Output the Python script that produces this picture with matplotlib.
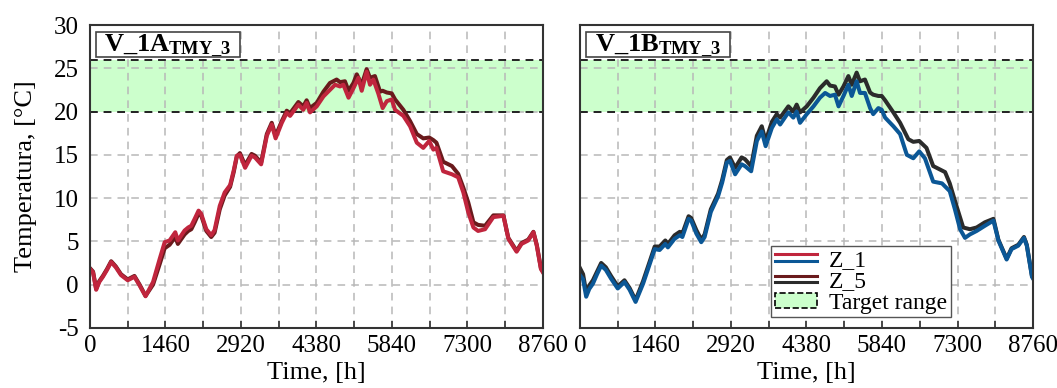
import matplotlib
matplotlib.use("Agg")
import matplotlib.pyplot as plt
from matplotlib.lines import Line2D
from matplotlib.patches import Patch, Rectangle
from matplotlib.legend_handler import HandlerBase

plt.rcParams['font.family'] = ['Liberation Serif', 'DejaVu Serif']
plt.rcParams['mathtext.fontset'] = 'custom'
plt.rcParams['mathtext.rm'] = 'Liberation Serif'
plt.rcParams['mathtext.bf'] = 'Liberation Serif:bold'
plt.rcParams['axes.unicode_minus'] = False

# hourly-mean indoor temperature, sampled at turning points
a_z1_h = [0, 60, 120, 180, 250, 330, 410, 500, 600, 730, 860, 960, 1075, 1220, 1350, 1445, 1540,
          1650, 1700, 1830, 1900, 1960, 2025, 2100, 2150, 2250, 2345, 2410, 2510, 2605, 2710, 2780,
          2840, 2900, 3000, 3125, 3190, 3310, 3420, 3515, 3590, 3710, 3805, 3870, 4030, 4125, 4190,
          4255, 4385, 4515, 4640, 4740, 4835, 4900, 5000, 5095, 5190, 5255, 5350, 5415, 5480, 5575,
          5610, 5660, 5740, 5835, 5900, 6060, 6190, 6320, 6445, 6560, 6640, 6700, 6830, 7000, 7120,
          7220, 7315, 7415, 7505, 7640, 7800, 7995, 8090, 8250, 8345, 8475, 8575, 8640, 8720, 8760]
a_z1_t = [1.8, 1.4, -0.6, 0.3, 0.9, 1.7, 2.6, 2.0, 1.1, 0.5, 0.9, -0.1, -1.35, 0.3, 3.0, 4.9, 5.1,
          6.05, 5.1, 6.25, 6.6, 6.8, 7.6, 8.55, 8.2, 6.4, 5.7, 6.3, 9.1, 10.65, 11.5, 13.2,
          14.9, 15.0, 13.5, 14.9, 14.7, 13.9, 17.2, 18.5, 16.9, 18.7, 19.85, 19.5, 20.8, 20.2, 21.0,
          19.9, 20.6, 21.75, 22.5, 23.1, 22.9, 23.1, 21.6, 22.7, 23.9, 22.4, 24.6, 23.1, 23.7, 22.1,
          21.4, 20.4, 21.2, 21.4, 20.2, 19.5, 18.3, 16.4, 15.8, 16.6, 15.6, 15.8, 13.1, 12.75, 12.4,
          10.65, 8.35, 6.6, 6.2, 6.4, 7.8, 7.95, 5.3, 3.8, 4.7, 5.1, 6.05, 4.5, 1.8, 1.4]

a_z5_h = [0, 60, 120, 180, 250, 330, 410, 500, 600, 730, 860, 960, 1075, 1220, 1350, 1445, 1540,
          1650, 1700, 1830, 1900, 1960, 2025, 2100, 2150, 2250, 2345, 2410, 2510, 2605, 2710, 2780,
          2840, 2900, 3000, 3125, 3190, 3310, 3420, 3515, 3590, 3710, 3805, 3870, 4030, 4125, 4190,
          4255, 4385, 4515, 4640, 4770, 4835, 4930, 5000, 5095, 5160, 5255, 5350, 5415, 5510, 5610,
          5660, 5740, 5835, 5900, 6060, 6190, 6320, 6445, 6560, 6640, 6700, 6830, 7000, 7120, 7220,
          7315, 7415, 7505, 7640, 7800, 7995, 8090, 8250, 8345, 8475, 8575, 8640, 8720, 8760]
a_z5_t = [1.9, 1.5, -0.5, 0.4, 1.0, 1.8, 2.7, 2.1, 1.2, 0.6, 1.0, 0.0, -1.3, 0.0, 2.4, 4.2, 4.6,
          5.5, 4.7, 5.8, 6.2, 6.4, 7.2, 8.2, 8.0, 6.2, 5.5, 6.0, 8.7, 10.3, 11.3, 13.0,
          14.8, 15.2, 13.8, 15.1, 14.9, 14.1, 17.4, 18.7, 17.2, 18.9, 20.1, 19.8, 21.1, 20.6, 21.3,
          20.4, 21.0, 22.3, 23.3, 23.7, 23.4, 23.5, 22.4, 23.3, 24.3, 23.1, 24.9, 23.9, 24.1, 22.3,
          22.4, 22.2, 22.1, 21.4, 20.2, 18.9, 17.4, 16.9, 17.0, 16.7, 16.4, 14.2, 13.7, 12.8, 11.2,
          9.5, 7.2, 6.9, 6.8, 8.0, 8.0, 5.4, 3.9, 4.8, 5.2, 6.1, 4.6, 1.9, 1.5]

b_z1_h = [0, 60, 120, 180, 250, 330, 410, 500, 600, 730, 860, 960, 1075, 1220, 1350, 1445, 1540,
          1650, 1700, 1830, 1930, 1980, 2100, 2150, 2250, 2345, 2410, 2530, 2670, 2750, 2840, 2900,
          3000, 3125, 3190, 3310, 3420, 3515, 3590, 3710, 3805, 3870, 4030, 4125, 4190, 4255, 4385,
          4515, 4640, 4740, 4835, 4930, 5000, 5095, 5190, 5255, 5350, 5415, 5510, 5610, 5670, 5770,
          5835, 5900, 6060, 6190, 6320, 6445, 6560, 6670, 6830, 7000, 7150, 7250, 7350, 7445, 7540,
          7670, 7830, 7995, 8090, 8250, 8345, 8475, 8585, 8640, 8740, 8760]
b_z1_t = [1.1, 0.6, -1.4, -0.5, 0.1, 1.2, 2.2, 1.7, 0.7, -0.45, 0.3, -0.6, -2.0, 0.1, 2.4, 4.1, 4.0,
          4.7, 4.3, 5.3, 5.7, 5.5, 7.6, 7.4, 5.9, 4.9, 5.5, 8.4, 10.2, 11.8, 14.1, 14.3,
          12.75, 13.9, 13.7, 13.1, 16.6, 17.7, 16.0, 18.1, 19.1, 18.5, 19.9, 19.3, 20.0, 18.7, 19.7,
          20.6, 21.6, 22.15, 21.8, 21.95, 20.6, 21.8, 23.1, 21.8, 23.5, 22.15, 22.15, 20.4, 19.7, 20.4,
          20.2, 19.3, 18.3, 17.4, 15.0, 14.6, 15.4, 14.6, 11.9, 11.7, 10.8, 8.7, 6.4, 5.4, 5.8,
          6.2, 6.8, 7.4, 5.1, 2.9, 4.1, 4.5, 5.4, 4.5, 0.9, 0.7]

b_z5_h = [0, 60, 120, 180, 250, 330, 410, 500, 600, 730, 860, 960, 1075, 1220, 1350, 1445, 1540,
          1650, 1700, 1830, 1930, 1980, 2100, 2150, 2250, 2345, 2410, 2530, 2670, 2750, 2840, 2900,
          3000, 3125, 3190, 3310, 3420, 3515, 3590, 3710, 3805, 3870, 4030, 4125, 4190, 4255, 4385,
          4515, 4640, 4770, 4835, 4930, 5000, 5095, 5190, 5255, 5350, 5415, 5510, 5610, 5670, 5770,
          5835, 5900, 6060, 6190, 6350, 6445, 6560, 6700, 6830, 7060, 7150, 7280, 7410, 7540, 7670,
          7830, 7995, 8090, 8250, 8345, 8475, 8585, 8640, 8740, 8760]
b_z5_t = [1.9, 1.2, -0.9, -0.1, 0.5, 1.5, 2.5, 2.0, 1.0, -0.2, 0.5, -0.4, -1.8, 0.4, 2.7, 4.4, 4.4,
          5.1, 4.7, 5.7, 6.1, 5.9, 7.9, 7.7, 6.3, 5.2, 5.8, 8.7, 10.5, 12.1, 14.4, 14.7,
          13.5, 14.7, 14.5, 13.7, 17.2, 18.3, 16.6, 18.8, 19.7, 19.3, 20.6, 20.0, 20.8, 19.9, 20.6,
          21.6, 22.7, 23.5, 23.0, 22.9, 21.95, 22.9, 24.1, 23.1, 24.5, 23.5, 23.7, 22.2, 21.95, 21.8,
          21.8, 21.3, 19.9, 18.7, 16.8, 16.5, 16.6, 15.8, 13.7, 13.0, 11.7, 9.1, 6.6, 6.4, 6.6,
          7.2, 7.6, 5.2, 3.0, 4.2, 4.6, 5.5, 4.6, 1.0, 0.8]

target_low, target_high = 20, 26
xticks = list(range(0, 8761, 730))
yticks = list(range(-5, 31, 5))

c_red, c_brown = '#c0253d', '#6a1a1c'
c_blue, c_black = '#0b5796', '#2b2b2b'
c_band = '#ccffcc'


class DoubleLineHandler(HandlerBase):
    """legend key with two short lines stacked on top of each other"""
    def create_artists(self, legend, orig_handle, xdescent, ydescent, width, height, fontsize, trans):
        top, bottom = orig_handle
        y = height / 2 - ydescent
        x = [-xdescent, width - xdescent]
        l1 = Line2D(x, [y + 2.4, y + 2.4], color=top.get_color(), lw=2.2, transform=trans)
        l2 = Line2D(x, [y - 2.4, y - 2.4], color=bottom.get_color(), lw=2.2, transform=trans)
        return [l1, l2]


def draw_panel(ax, h1, t1, h5, t5, col1, col5, title):
    ax.axhspan(target_low, target_high, color=c_band, lw=0, zorder=1)
    for yv in (target_low, target_high):
        ax.axhline(yv, color='#222222', lw=1.4, ls=(0, (4, 3)), zorder=1.8)
    ax.plot(h5, t5, color=col5, lw=2.9, zorder=2)
    ax.plot(h1, t1, color=col1, lw=2.9, zorder=2.1)
    ax.set_xlim(0, 8760)
    ax.set_ylim(-5, 30)
    ax.set_xticks(xticks)
    ax.set_xticklabels([str(x) if x % 1460 == 0 else '' for x in xticks])
    ax.set_yticks(yticks)
    ax.grid(True, color='#b8b8b8', ls=(0, (5, 4)), lw=1.1)
    ax.tick_params(axis='x', direction='in', length=5, width=1.2, color='#333333',
                   labelsize=18, pad=5)
    ax.tick_params(axis='y', length=0, labelsize=18, pad=8)
    for s in ax.spines.values():
        s.set_color('#333333')
        s.set_linewidth(1.5)
    ax.set_xlabel('Time, [h]', fontsize=19, labelpad=4)
    # title box of fixed width, text centred in it
    ax.add_patch(Rectangle((0.013, 0.894), 0.318, 0.083, transform=ax.transAxes,
                           fc='white', ec='#444444', lw=1.2, zorder=5))
    ax.text(0.172, 0.934, title, transform=ax.transAxes, fontsize=19,
            va='center', ha='center', zorder=6)


fig = plt.figure(figsize=(10.57, 3.88), dpi=100)
ax1 = fig.add_axes([0.0851, 0.155, 0.4286, 0.7805])
ax2 = fig.add_axes([0.5487, 0.155, 0.4286, 0.7805])

draw_panel(ax1, a_z1_h, a_z1_t, a_z5_h, a_z5_t, c_red, c_brown,
           r'$\mathbf{V\_1A_{TMY\_3}}$')
draw_panel(ax2, b_z1_h, b_z1_t, b_z5_h, b_z5_t, c_blue, c_black,
           r'$\mathbf{V\_1B_{TMY\_3}}$')
ax1.set_ylabel('Temperatura, [°C]', fontsize=19, labelpad=12)
ax2.set_yticklabels([])

handles = [(Line2D([], [], color=c_red), Line2D([], [], color=c_blue)),
           (Line2D([], [], color=c_brown), Line2D([], [], color=c_black)),
           Patch(facecolor=c_band, edgecolor='k', linestyle='--', lw=1.2)]
leg = ax2.legend(handles, ['Z_1', 'Z_5', 'Target range'], handler_map={tuple: DoubleLineHandler()},
                 loc='lower right', bbox_to_anchor=(0.818, 0.035), fontsize=17, fancybox=False,
                 framealpha=1, edgecolor='#555555', handlelength=1.8, handleheight=0.6,
                 handletextpad=0.5, labelspacing=0.02, borderpad=0.15, borderaxespad=0)
leg.get_frame().set_linewidth(1.0)
leg.set_zorder(6)

fig.savefig('out.png', dpi=100)
